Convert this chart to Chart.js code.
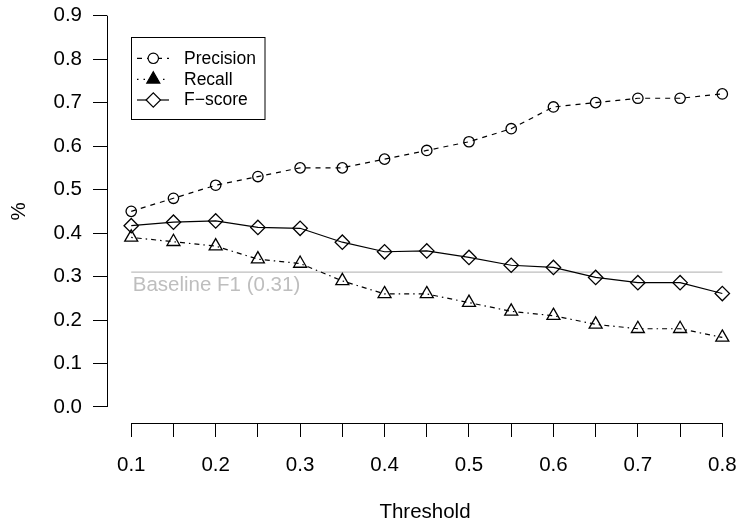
<!DOCTYPE html>
<html>
<head>
<meta charset="utf-8">
<style>
  html, body { margin: 0; padding: 0; background: #fff; }
</style>
<script src="https://cdn.jsdelivr.net/npm/chart.js@4.4.0/dist/chart.umd.min.js"></script>
</head>
<body>
<canvas id="chart" width="743" height="528"></canvas>
<script>
// values
const thresholds = [0.1, 0.15, 0.2, 0.25, 0.3, 0.35, 0.4, 0.45, 0.5, 0.55, 0.6, 0.65, 0.7, 0.75, 0.8];
const precision = [0.45, 0.48, 0.51, 0.53, 0.55, 0.55, 0.57, 0.59, 0.61, 0.64, 0.69, 0.70, 0.71, 0.71, 0.72];
const recall = [0.39, 0.38, 0.37, 0.34, 0.33, 0.29, 0.26, 0.26, 0.24, 0.22, 0.21, 0.19, 0.18, 0.18, 0.16];
const fscore = [0.417, 0.425, 0.428, 0.413, 0.411, 0.379, 0.357, 0.359, 0.344, 0.326, 0.321, 0.298, 0.286, 0.286, 0.261];
const baselineF1 = 0.31;
const xTickValues = thresholds;
const xLabelValues = [0.1, 0.2, 0.3, 0.4, 0.5, 0.6, 0.7, 0.8];
const yTickValues = [0, 0.1, 0.2, 0.3, 0.4, 0.5, 0.6, 0.7, 0.8, 0.9];

const FONT = '"Liberation Sans", Arial, Helvetica, sans-serif';
const TXT = 20.5;
const toPoints = ys => thresholds.map((x, i) => ({ x: x, y: ys[i] }));

// R-style axes: line only between first and last tick, plus legend box and baseline label
const rStyle = {
  id: 'rStyle',
  afterDraw(chart) {
    const { ctx, chartArea, scales: { x, y } } = chart;
    ctx.save();
    ctx.strokeStyle = '#000';
    ctx.lineWidth = 1;
    ctx.setLineDash([]);
    ctx.beginPath();
    const ax = Math.round(chartArea.left) + 0.5;
    ctx.moveTo(ax, y.getPixelForValue(yTickValues[0]));
    ctx.lineTo(ax, y.getPixelForValue(yTickValues[yTickValues.length - 1]));
    const ay = Math.round(chartArea.bottom) + 0.5;
    ctx.moveTo(x.getPixelForValue(xTickValues[0]), ay);
    ctx.lineTo(x.getPixelForValue(xTickValues[xTickValues.length - 1]), ay);
    ctx.stroke();

    // baseline label
    ctx.fillStyle = '#bebebe';
    ctx.font = TXT + 'px ' + FONT;
    ctx.textBaseline = 'alphabetic';
    ctx.textAlign = 'left';
    ctx.fillText('Baseline F1 (' + baselineF1 + ')', x.getPixelForValue(0.1) + 1.5, y.getPixelForValue(baselineF1) + 19);

    // legend
    const bx = 131.5, by = 37.5, bw = 133.5, bh = 82;
    ctx.strokeStyle = '#000';
    ctx.lineWidth = 1;
    ctx.strokeRect(bx, by, bw, bh);
    const rows = [58.3, 79.3, 100];
    const sets = chart.data.datasets.filter(d => d.inLegend);
    ctx.font = '17.5px ' + FONT;
    ctx.fillStyle = '#000';
    ctx.textBaseline = 'middle';
    sets.forEach((d, i) => {
      const cy = rows[i];
      ctx.save();
      ctx.lineWidth = d.borderWidth;
      ctx.setLineDash(d.legendDash || d.borderDash || []);
      ctx.beginPath();
      ctx.moveTo(137, cy);
      ctx.lineTo(169, cy);
      ctx.stroke();
      ctx.setLineDash([]);
      const cx = 153.3, r = d.pointRadius;
      ctx.beginPath();
      if (d.pointStyle === 'circle') {
        ctx.arc(cx, cy, r, 0, Math.PI * 2);
      } else if (d.pointStyle === 'triangle') {
        ctx.moveTo(cx, cy - r);
        ctx.lineTo(cx + r * Math.sin(Math.PI / 3), cy + r * 0.5);
        ctx.lineTo(cx - r * Math.sin(Math.PI / 3), cy + r * 0.5);
        ctx.closePath();
      } else {
        ctx.moveTo(cx - r, cy);
        ctx.lineTo(cx, cy - r);
        ctx.lineTo(cx + r, cy);
        ctx.lineTo(cx, cy + r);
        ctx.closePath();
      }
      ctx.fillStyle = d.legendFill || '#fff';
      ctx.fill();
      ctx.stroke();
      ctx.restore();
      ctx.fillText(d.label, 184, cy + 0.5);
    });
    ctx.restore();
  }
};

new Chart(document.getElementById('chart'), {
  type: 'line',
  data: {
    datasets: [
      {
        label: 'Precision',
        data: toPoints(precision),
        inLegend: true,
        borderColor: '#000',
        borderWidth: 1.2,
        borderDash: [5, 5],
        pointStyle: 'circle',
        pointRadius: 5.2,
        pointBorderWidth: 1.3,
        pointBackgroundColor: 'rgba(0,0,0,0)',
        pointBorderColor: '#000'
      },
      {
        label: 'Recall',
        data: toPoints(recall),
        inLegend: true,
        legendDash: [1.5, 5],
        legendFill: '#000',
        borderColor: '#000',
        borderWidth: 1.2,
        borderDash: [1.5, 4, 5, 4],
        pointStyle: 'triangle',
        pointRadius: 7.5,
        pointBorderWidth: 1.3,
        pointBackgroundColor: 'rgba(0,0,0,0)',
        pointBorderColor: '#000'
      },
      {
        label: 'F\u2212score',
        data: toPoints(fscore),
        inLegend: true,
        borderColor: '#000',
        borderWidth: 1.2,
        pointStyle: 'rectRot',
        pointRadius: 7.2,
        pointBorderWidth: 1.3,
        pointBackgroundColor: 'rgba(0,0,0,0)',
        pointBorderColor: '#000'
      },
      {
        label: 'Baseline F1',
        data: [{ x: thresholds[0], y: baselineF1 }, { x: thresholds[thresholds.length - 1], y: baselineF1 }],
        borderColor: '#bebebe',
        borderWidth: 1.2,
        pointRadius: 0
      }
    ]
  },
  options: {
    responsive: false,
    animation: false,
    layout: { padding: 0, autoPadding: false },
    elements: { line: { tension: 0 } },
    plugins: {
      legend: { display: false },
      tooltip: { enabled: false }
    },
    scales: {
      x: {
        type: 'linear',
        min: 0.0713,
        max: 0.8245,
        afterBuildTicks: s => { s.ticks = xTickValues.map(v => ({ value: v })); },
        afterFit: s => { s.height = 105; s.paddingLeft = 0; s.paddingRight = 0; },
        border: { display: false },
        grid: { drawOnChartArea: false, drawTicks: true, tickLength: 14, color: '#000', lineWidth: 1 },
        ticks: {
          autoSkip: false,
          maxRotation: 0,
          padding: 16,
          color: '#000',
          font: { family: FONT, size: TXT },
          callback: v => xLabelValues.some(l => Math.abs(l - v) < 1e-6) ? v.toFixed(1) : ''
        },
        title: {
          display: true,
          text: 'Threshold',
          color: '#000',
          font: { family: FONT, size: TXT },
          padding: { top: 0, bottom: 3 }
        }
      },
      y: {
        type: 'linear',
        min: -0.0368,
        max: 0.936,
        afterBuildTicks: s => { s.ticks = yTickValues.map(v => ({ value: v })); },
        afterFit: s => { s.width = 107; s.paddingTop = 0; s.paddingBottom = 0; },
        border: { display: false },
        grid: { drawOnChartArea: false, drawTicks: true, tickLength: 14, color: '#000', lineWidth: 1 },
        ticks: {
          autoSkip: false,
          padding: 11,
          color: '#000',
          font: { family: FONT, size: TXT },
          callback: v => v.toFixed(1)
        },
        title: {
          display: true,
          text: '%',
          color: '#000',
          font: { family: FONT, size: TXT },
          padding: { top: 7, bottom: 0 }
        }
      }
    }
  },
  plugins: [rStyle]
});
</script>
</body>
</html>
